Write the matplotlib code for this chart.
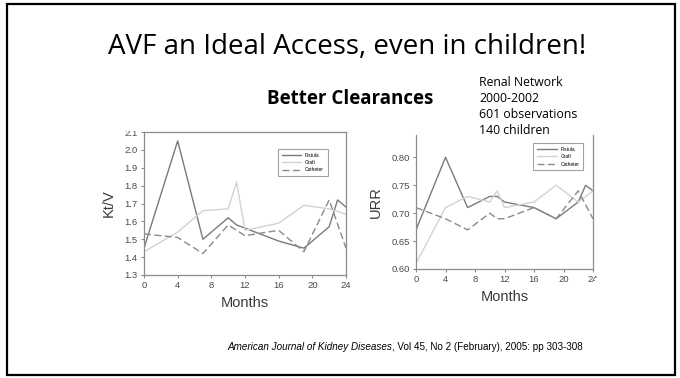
import matplotlib
matplotlib.use("Agg")
import matplotlib.pyplot as plt
from matplotlib.patches import Rectangle
import numpy as np

# Kt/V data (left chart)
ktv_fistula_months = [0, 4, 7, 10, 11, 16, 19, 22, 23, 24]
ktv_fistula = [1.45, 2.05, 1.50, 1.62, 1.58, 1.49, 1.45, 1.57, 1.72, 1.68]
ktv_graft_months = [0, 4, 7, 10, 11, 12, 16, 19, 22, 24]
ktv_graft = [1.43, 1.54, 1.66, 1.67, 1.82, 1.55, 1.59, 1.69, 1.67, 1.64]
ktv_cath_months = [0, 4, 7, 10, 12, 16, 19, 22, 24]
ktv_cath = [1.53, 1.51, 1.42, 1.58, 1.52, 1.55, 1.43, 1.72, 1.45]

# URR data (right chart)
urr_fistula_months = [0, 4, 7, 10, 11, 12, 16, 19, 22, 23, 24]
urr_fistula = [0.67, 0.80, 0.71, 0.73, 0.73, 0.72, 0.71, 0.69, 0.72, 0.75, 0.74]
urr_graft_months = [0, 4, 7, 10, 11, 12, 16, 19, 22, 24]
urr_graft = [0.61, 0.71, 0.73, 0.72, 0.74, 0.71, 0.72, 0.75, 0.72, 0.74]
urr_cath_months = [0, 4, 7, 10, 11, 12, 16, 19, 22, 24]
urr_cath = [0.71, 0.69, 0.67, 0.70, 0.69, 0.69, 0.71, 0.69, 0.74, 0.69]

month_ticks = [0, 4, 8, 12, 16, 20, 24]
ktv_ticks = [1.3, 1.4, 1.5, 1.6, 1.7, 1.8, 1.9, 2.0, 2.1]
urr_ticks = [0.60, 0.65, 0.70, 0.75, 0.80]
series_names = ["Fistula", "Graft", "Catheter"]

W, H = 680, 378
fig = plt.figure(figsize=(W / 100, H / 100), dpi=100)
fig.patch.set_facecolor("white")

plt.rcParams['font.family'] = ['Liberation Sans', 'DejaVu Sans']

styles = [
    dict(color="#7a7a7a", lw=1.0, ls="-"),
    dict(color="#d2d2d2", lw=1.0, ls="-"),
    dict(color="#8a8a8a", lw=1.0, ls=(0, (5, 2.5))),
]


def px_axes(left, top, right, bottom):
    return fig.add_axes([left / W, 1 - bottom / H, (right - left) / W, (bottom - top) / H])


def style_axes(ax):
    for sp in ax.spines.values():
        sp.set_color("#8c8c8c")
        sp.set_linewidth(0.9)
    ax.tick_params(labelsize=6.8, labelcolor="#4a4a4a", color="#8c8c8c",
                   length=2.5, width=0.8, pad=2)
    ax.set_xlim(0, 24)
    ax.set_xticks(month_ticks)


# left chart
ax1 = px_axes(144, 132, 346, 275)
for months, vals, st, name in zip(
        [ktv_fistula_months, ktv_graft_months, ktv_cath_months],
        [ktv_fistula, ktv_graft, ktv_cath], styles, series_names):
    ax1.plot(months, vals, label=name, **st)
style_axes(ax1)
ax1.set_ylim(1.3, 2.1)
ax1.set_yticks(ktv_ticks)
ax1.set_yticklabels([f"{v:.1f}" for v in ktv_ticks])
ax1.set_xlabel("Months", fontsize=10.5, color="#3a3a3a", labelpad=4)
ax1.set_ylabel("Kt/V", fontsize=10.5, color="#3a3a3a", labelpad=6)
leg1 = ax1.legend(loc="upper left", bbox_to_anchor=(0.65, 0.9), fontsize=3.5,
                  frameon=True, fancybox=False, edgecolor="#8c8c8c",
                  handlelength=4, borderpad=0.8, labelspacing=0.5)
leg1.get_frame().set_linewidth(0.8)

# right chart
ax2 = px_axes(416, 135, 593, 269)
for months, vals, st, name in zip(
        [urr_fistula_months, urr_graft_months, urr_cath_months],
        [urr_fistula, urr_graft, urr_cath], styles, series_names):
    ax2.plot(months, vals, label=name, **st)
style_axes(ax2)
ax2.spines["top"].set_visible(False)
ax2.set_ylim(0.60, 0.84)
ax2.set_yticks(urr_ticks)
ax2.set_yticklabels([f"{v:.2f}" for v in urr_ticks])
ax2.set_xlabel("Months", fontsize=10.5, color="#3a3a3a", labelpad=4)
ax2.set_ylabel("URR", fontsize=10.5, color="#3a3a3a", labelpad=6)
leg2 = ax2.legend(loc="upper left", bbox_to_anchor=(0.65, 0.96), fontsize=3.5,
                  frameon=True, fancybox=False, edgecolor="#8c8c8c",
                  handlelength=4, borderpad=0.8, labelspacing=0.5)
leg2.get_frame().set_linewidth(0.8)

# the pasted pictures are cropped: right one at its right edge, left one at its top
fig.add_artist(Rectangle((594.5 / W, 1 - 292 / H), 30 / W, 14 / H,
                         transform=fig.transFigure, facecolor="white",
                         edgecolor="none", zorder=10))
fig.add_artist(Rectangle((118 / W, 1 - 131 / H), 24 / W, 8 / H,
                         transform=fig.transFigure, facecolor="white",
                         edgecolor="none", zorder=10))

# slide texts
fig.text(347 / W, 1 - 47 / H, "AVF an Ideal Access, even in children!",
         ha="center", va="center", fontsize=20, family="Open Sans", color="black")
fig.text(350 / W, 1 - 99 / H, "Better Clearances", ha="center", va="center",
         fontsize=13.5, fontweight="bold", family="Open Sans")
fig.text(479 / W, 1 - 76 / H, "Renal Network\n2000-2002\n601 observations\n140 children",
         ha="left", va="top", fontsize=8.8, family="Open Sans", linespacing=1.3)

cit_x = 392 / W
fig.text(cit_x, 1 - 347 / H, "American Journal of Kidney Diseases", ha="right",
         va="center", fontsize=7.1, style="italic")
fig.text(cit_x, 1 - 347 / H, ", Vol 45, No 2 (February), 2005: pp 303-308",
         ha="left", va="center", fontsize=7.1)

# slide border
fig.add_artist(Rectangle((7 / W, 1 - 375 / H), 668 / W, 371 / H,
                         transform=fig.transFigure, facecolor="none",
                         edgecolor="black", lw=1.6, zorder=11))

fig.savefig("out.png", dpi=100)
